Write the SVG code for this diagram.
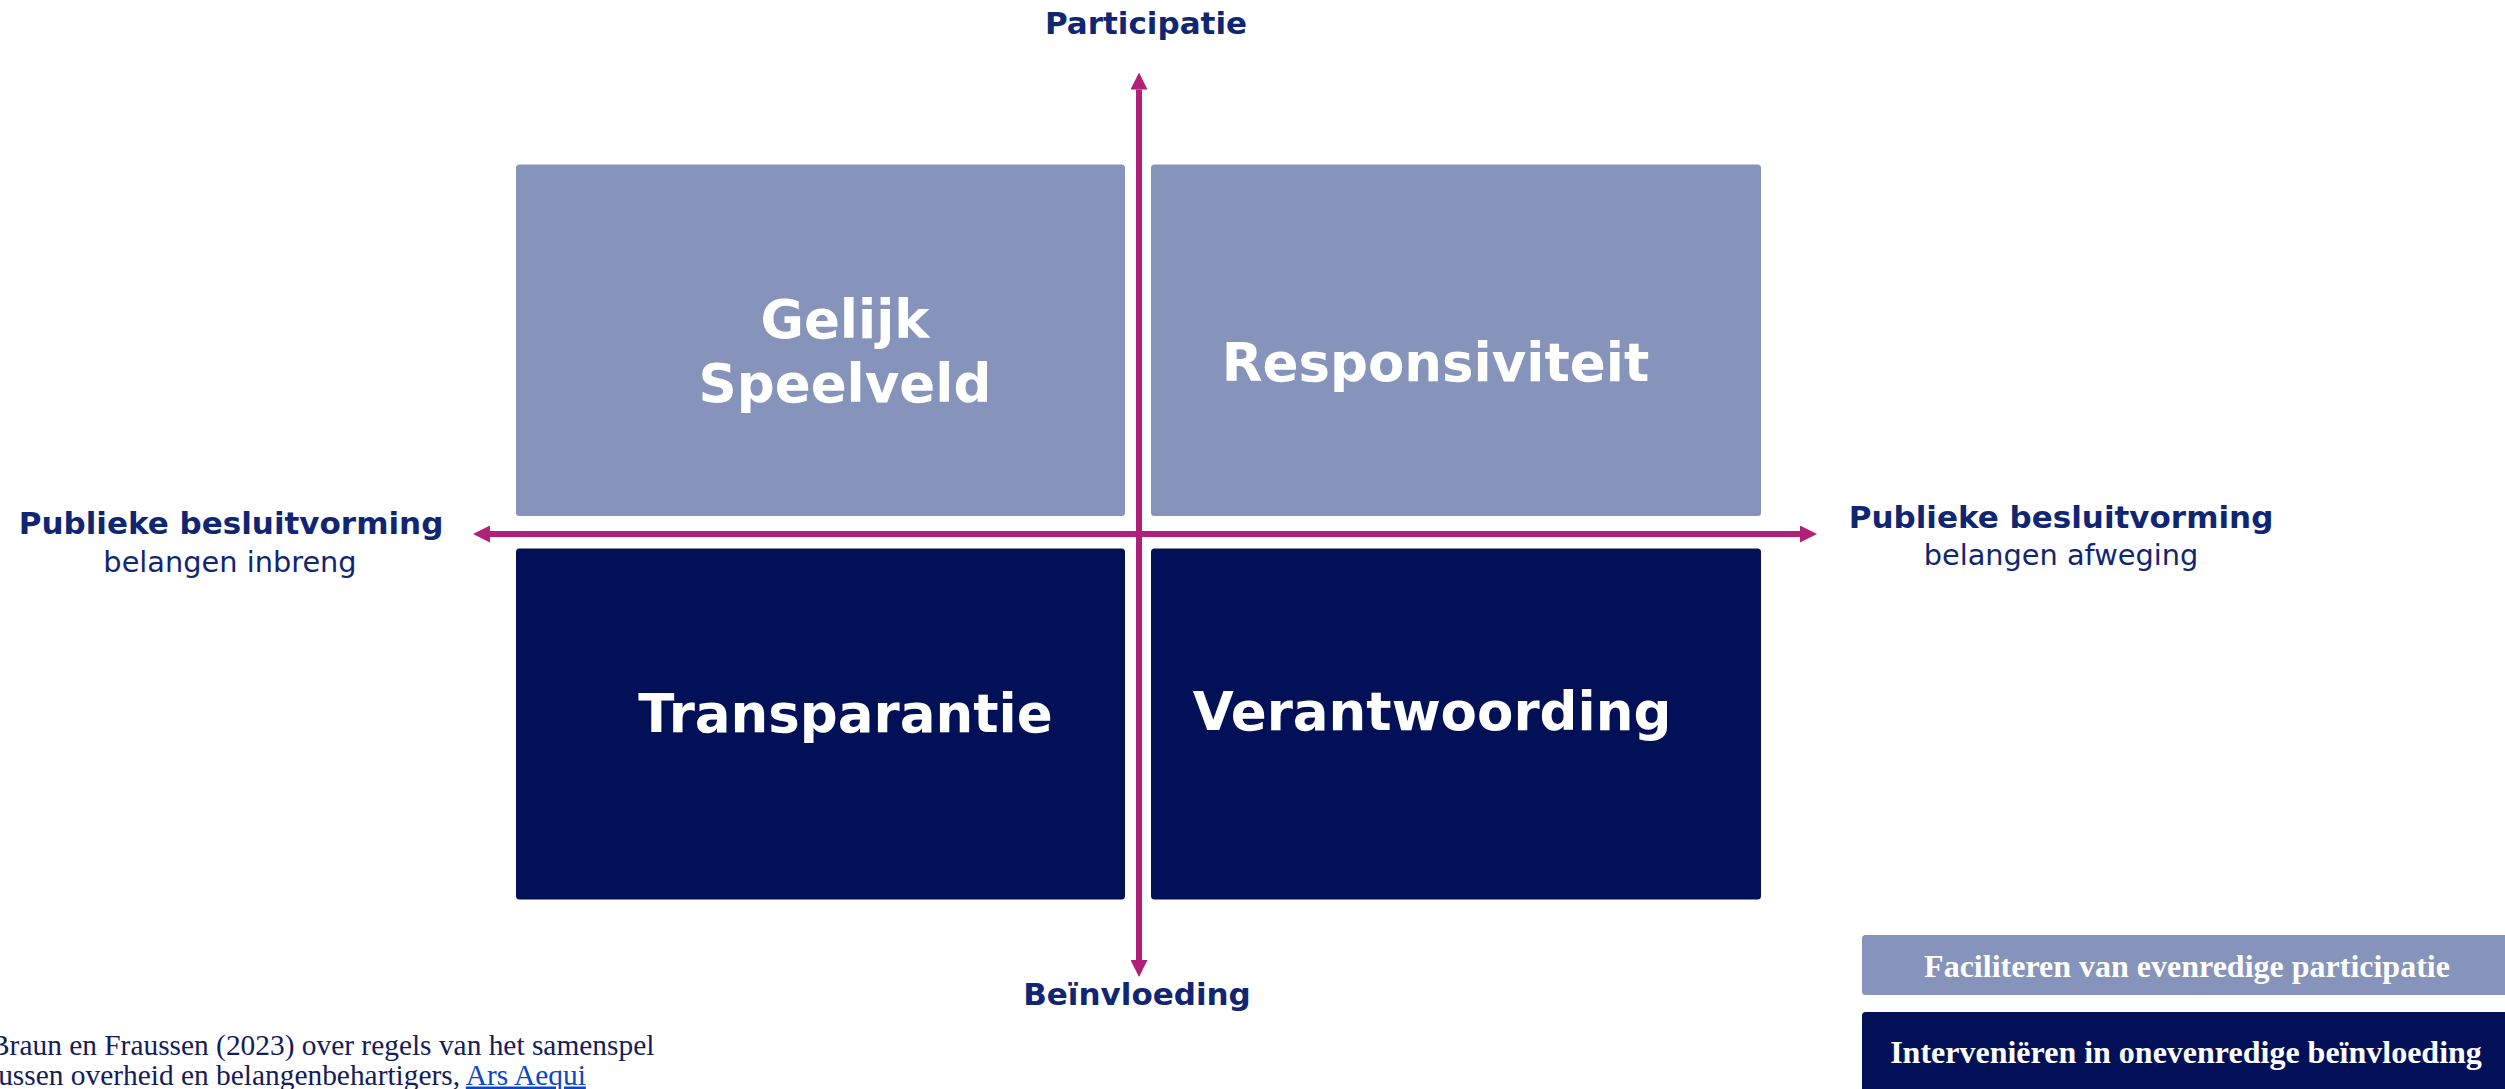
<svg xmlns="http://www.w3.org/2000/svg" width="2505" height="1089" viewBox="0 0 2505 1089">
<style>
.light{fill:#8693BA}
.dark{fill:#021157}
.axis{stroke:#B11F78;stroke-width:6;fill:none}
.q{font-family:"DejaVu Sans",Verdana,sans-serif;font-weight:bold;font-size:53px;fill:#FFFFFF;text-anchor:middle}
.ax{font-family:"DejaVu Sans",Verdana,sans-serif;font-weight:bold;font-size:31px;fill:#112673;text-anchor:middle}
.sub{font-family:"DejaVu Sans",Verdana,sans-serif;font-size:28.8px;fill:#112673;text-anchor:middle}
.leg{font-family:"Liberation Serif","Times New Roman",serif;font-weight:bold;font-size:32px;fill:#FFFFFF;text-anchor:middle}
.foot{font-family:"Liberation Serif","Times New Roman",serif;font-size:29.4px;fill:#141C5C}
.link{fill:#0B46C9;text-decoration:underline}
</style>
<defs>
<marker id="ah" viewBox="0 0 17 17" refX="0" refY="8.5" markerWidth="17" markerHeight="17" markerUnits="userSpaceOnUse" orient="auto-start-reverse">
<path d="M0,0 L17,8.5 L0,17 z" fill="#B11F78"/>
</marker>
</defs>
<rect width="2505" height="1089" fill="#FFFFFF"/>
<g id="gelijk-speelveld">
<rect class="light" x="516" y="164.5" width="609" height="351.5" rx="3.5"/>
<text class="q" x="845" y="337.5">Gelijk</text>
<text class="q" x="845" y="402">Speelveld</text>
</g>
<g id="responsiviteit">
<rect class="light" x="1151" y="164.5" width="610" height="351.5" rx="3.5"/>
<text class="q" x="1435.5" y="381">Responsiviteit</text>
</g>
<g id="transparantie">
<rect class="dark" x="516" y="548.5" width="609" height="351" rx="3.5"/>
<text class="q" x="845.5" y="731.5">Transparantie</text>
</g>
<g id="verantwoording">
<rect class="dark" x="1151" y="548.5" width="610" height="351" rx="3.5"/>
<text class="q" x="1432" y="730">Verantwoording</text>
</g>
<g id="connectors">
<line class="axis" x1="1139" y1="960" x2="1139" y2="89.5" marker-start="url(#ah)" marker-end="url(#ah)"/>
<line class="axis" x1="1800" y1="534" x2="490" y2="534" marker-start="url(#ah)" marker-end="url(#ah)"/>
</g>
<g id="label-participatie">
<text class="ax" x="1146" y="34">Participatie</text>
</g>
<g id="label-beinvloeding">
<text class="ax" x="1137" y="1005">Beïnvloeding</text>
</g>
<g id="label-left">
<text class="ax" x="231" y="534">Publieke besluitvorming</text>
<text class="sub" x="230" y="572">belangen inbreng</text>
</g>
<g id="label-right">
<text class="ax" x="2061" y="527.5">Publieke besluitvorming</text>
<text class="sub" x="2061" y="564.5">belangen afweging</text>
</g>
<g id="legend-faciliteren">
<rect class="light" x="1862" y="935" width="660" height="60" rx="3.5"/>
<text class="leg" x="2187" y="977">Faciliteren van evenredige participatie</text>
</g>
<g id="legend-interveniëren">
<rect class="dark" x="1862" y="1012" width="660" height="100" rx="3.5"/>
<text class="leg" x="2186" y="1063">Interveniëren in onevenredige beïnvloeding</text>
</g>
<g id="footer">
<text class="foot" x="-10" y="1055">Braun en Fraussen (2023) over regels van het samenspel</text>
<text class="foot" x="-10" y="1084.5">tussen overheid en belangenbehartigers, <tspan class="link">Ars Aequi</tspan></text>
</g>
</svg>
